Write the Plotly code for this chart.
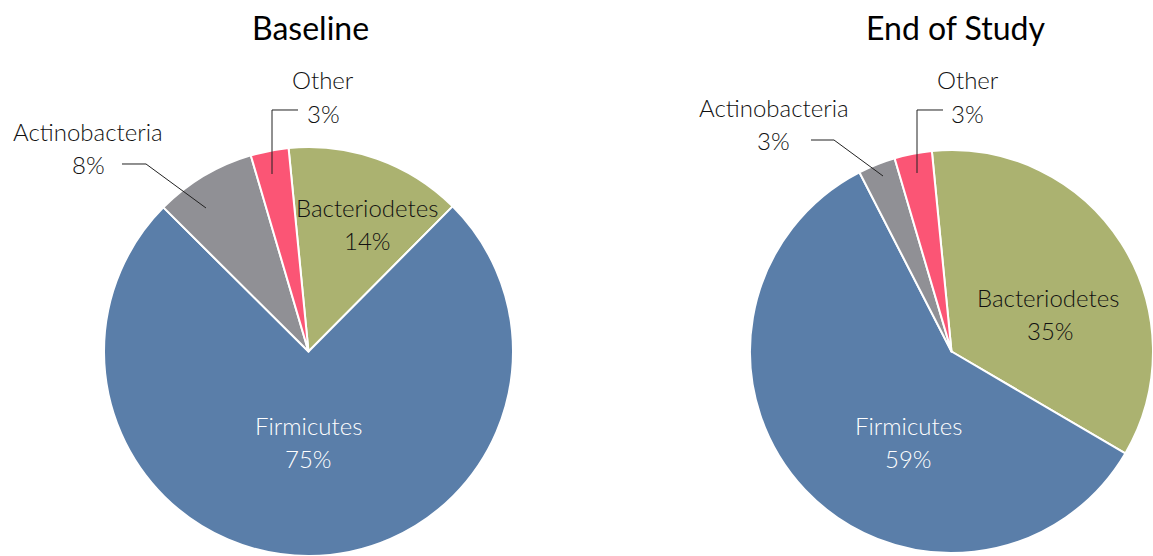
import plotly.graph_objects as go

W, H = 1153, 556

categories = ["Bacteriodetes", "Firmicutes", "Actinobacteria", "Other"]
baseline_values = [14, 75, 8, 3]
end_values = [35, 59, 3, 3]
titles = ["Baseline", "End of Study"]
slice_colors = ["#abb270", "#5a7ea9", "#909095", "#fb5575"]
label_colors = ["#111111", "#ffffff", "#111111", "#111111"]

FONT = "Lato"


def px(x):
    return x / W


def py(y):
    return 1 - y / H


fig = go.Figure()

pie_domains = [
    dict(x=[px(104), px(513)], y=[0, py(147)]),
    dict(x=[px(750), 1.0], y=[0, py(147)]),
]

for vals, dom in zip([baseline_values, end_values], pie_domains):
    fig.add_trace(go.Pie(
        labels=categories,
        values=vals,
        sort=False,
        direction="clockwise",
        rotation=-5.6,
        marker=dict(colors=slice_colors, line=dict(color="white", width=2)),
        textinfo="none",
        hoverinfo="label+percent",
        domain=dom,
        showlegend=False,
    ))

# label placement (pixel positions of name line and percent line)
label_pos = [
    {"Bacteriodetes": ((367, 207), (367, 240)),
     "Firmicutes": ((308, 425), (308, 458)),
     "Actinobacteria": ((88, 132), (88, 165)),
     "Other": ((323, 79), (323, 113))},
    {"Bacteriodetes": ((1048, 297), (1050, 330)),
     "Firmicutes": ((908, 425), (908, 458)),
     "Actinobacteria": ((774, 107), (773, 140)),
     "Other": ((968, 79), (968, 113))},
]

annotations = []
for vals, pos in zip([baseline_values, end_values], label_pos):
    total = sum(vals)
    for cat, v, col in zip(categories, vals, label_colors):
        (nx, ny), (qx, qy) = pos[cat]
        pct = round(v / total * 100)
        for txt, x, y in [(cat, nx, ny), (f"{pct}%", qx, qy)]:
            annotations.append(dict(
                x=px(x), y=py(y), xref="paper", yref="paper",
                text=txt, showarrow=False, xanchor="center", yanchor="middle",
                font=dict(family=FONT, size=24, color=col, weight=300),
            ))

title_pos = [(310, 27), (955, 27)]
for t, (x, y) in zip(titles, title_pos):
    annotations.append(dict(
        x=px(x), y=py(y), xref="paper", yref="paper", text=t,
        showarrow=False, xanchor="center", yanchor="middle",
        font=dict(family=FONT, size=32, color="#000000", weight=400),
    ))

leader_paths = [
    [(272, 174), (272, 110), (298, 110)],
    [(122, 164), (146, 164), (206, 208)],
    [(917, 173), (917, 110), (943, 110)],
    [(811, 140), (834, 140), (883, 176)],
]
shapes = []
for pts in leader_paths:
    d = "M " + " L ".join(f"{px(x):.5f},{py(y):.5f}" for x, y in pts)
    shapes.append(dict(type="path", path=d, xref="paper", yref="paper",
                       line=dict(color="#222222", width=1)))

fig.update_layout(
    width=W, height=H,
    margin=dict(l=0, r=0, t=0, b=0),
    paper_bgcolor="white",
    plot_bgcolor="white",
    annotations=annotations,
    shapes=shapes,
    font=dict(family=FONT),
)

fig.write_html("out.html")
